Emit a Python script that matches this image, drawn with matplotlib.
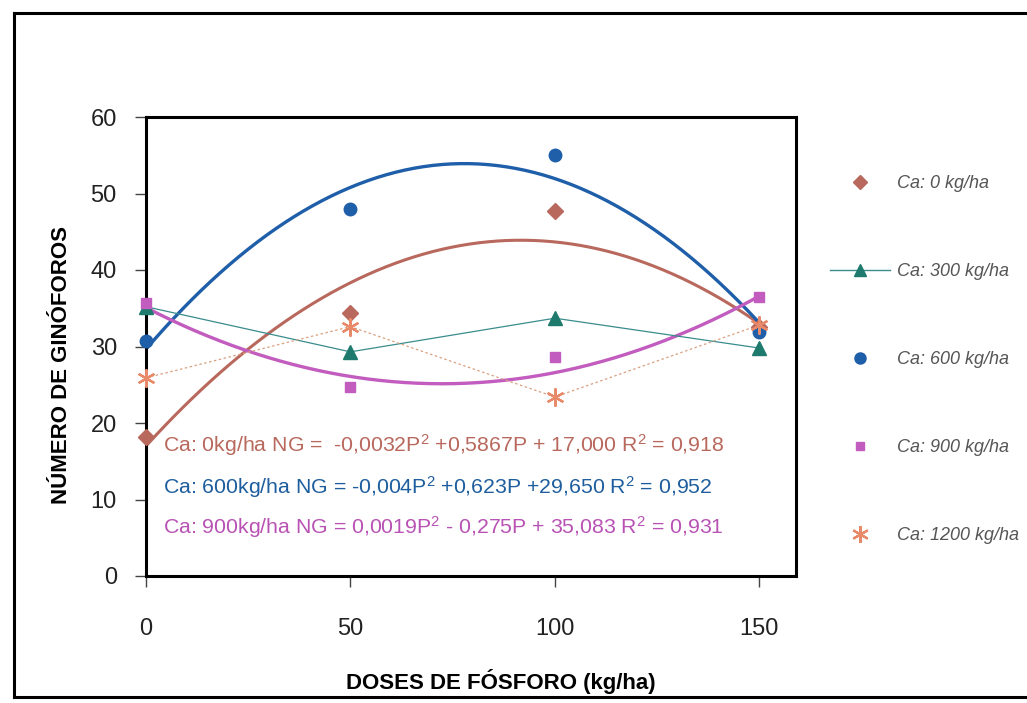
import numpy as np
import matplotlib
matplotlib.use("Agg")
import matplotlib.pyplot as plt
from matplotlib.lines import Line2D

plt.rcParams["font.family"] = ["Liberation Sans", "DejaVu Sans"]
plt.rcParams["mathtext.fontset"] = "custom"
plt.rcParams["mathtext.rm"] = "Liberation Sans"
plt.rcParams["mathtext.it"] = "Liberation Sans:italic"

# doses de fósforo (kg/ha)
doses = [0, 50, 100, 150]

# número de ginóforos por dose de cálcio
ca0 = [18.2, 34.4, 47.7, 32.5]
ca300 = [35.2, 29.3, 33.7, 29.8]
ca600 = [30.7, 48.0, 55.0, 31.9]
ca900 = [35.7, 24.7, 28.6, 36.5]
ca1200 = [25.9, 32.6, 23.4, 32.8]

# polynomial trendlines (coefs shown on the chart: P^2, P, const)
fit_ca0 = [-0.0032, 0.5867, 17.000]
fit_ca600 = [-0.004, 0.623, 29.650]
fit_ca900 = [0.0019, -0.275, 35.083]

eq_texts = [
    r"Ca: 0kg/ha NG =  -0,0032P$^\mathrm{2}$ +0,5867P + 17,000 R$^\mathrm{2}$ = 0,918",
    r"Ca: 600kg/ha NG = -0,004P$^\mathrm{2}$ +0,623P +29,650 R$^\mathrm{2}$ = 0,952",
    r"Ca: 900kg/ha NG = 0,0019P$^\mathrm{2}$ - 0,275P + 35,083 R$^\mathrm{2}$ = 0,931",
]
legend_labels = ["Ca: 0 kg/ha", "Ca: 300 kg/ha", "Ca: 600 kg/ha",
                 "Ca: 900 kg/ha", "Ca: 1200 kg/ha"]

C0 = "#b8685c"
C300 = "#1d7a6c"
C600 = "#1f5ea8"
C900 = "#c25cbe"
C1200 = "#e8896a"

W, H = 1027, 703
fig = plt.figure(figsize=(W / 100, H / 100), dpi=100)
ax = fig.add_axes([146 / W, 1 - 576 / H, 650 / W, 459 / H])

p = np.linspace(0, 150, 200)
ax.plot(p, np.polyval(fit_ca0, p), color=C0, lw=2.2, zorder=2)
ax.plot(p, np.polyval(fit_ca600, p), color=C600, lw=2.4, zorder=2)
ax.plot(p, np.polyval(fit_ca900, p), color=C900, lw=2.4, zorder=2)

ax.plot(doses, ca300, color="#3a8c8c", lw=0.9, zorder=3)
ax.plot(doses, ca1200, color="#d8a080", lw=0.9, ls=(0, (2, 2)), zorder=3)

ax.plot(doses, ca0, ls="none", marker="D", ms=8, color=C0, zorder=4,
        clip_on=False)
ax.plot(doses, ca300, ls="none", marker="^", ms=10, color=C300, zorder=4,
        clip_on=False)
ax.plot(doses, ca600, ls="none", marker="o", ms=9, color=C600, zorder=4,
        clip_on=False)
ax.plot(doses, ca900, ls="none", marker="s", ms=7, color=C900, zorder=4,
        clip_on=False)
ax.plot(doses, ca1200, ls="none", marker=(6, 2, 0), ms=13, mew=1.6,
        color=C1200, zorder=5, clip_on=False)

ax.set_xlim(0, 159)
ax.set_ylim(0, 60)
ax.set_xticks([0, 50, 100, 150])
ax.set_yticks(range(0, 61, 10))
ax.tick_params(axis="both", direction="out", length=8, width=1, color="#444444",
               labelsize=17, labelcolor="#222222")
ax.tick_params(axis="x", pad=22)
ax.tick_params(axis="y", pad=13)
for s in ax.spines.values():
    s.set_linewidth(2.2)
    s.set_color("black")
    s.set_zorder(3.5)

eq_colors = [C0, "#1e5e9e", "#b852b4"]
eq_y = [17.1, 11.6, 6.4]
for t, c, yy in zip(eq_texts, eq_colors, eq_y):
    ax.text(4.2, yy, t, color=c, fontsize=15.3, va="center", ha="left")

fig.text(501 / W, 1 - 682 / H, "DOSES DE FÓSFORO (kg/ha)", fontsize=16,
         fontweight="bold", ha="center", va="center")
fig.text(62 / W, 1 - 365 / H, "NÚMERO DE GINÓFOROS", fontsize=16,
         fontweight="bold", ha="center", va="center", rotation=90)

handles = [
    Line2D([], [], ls="none", marker="D", ms=7, color=C0),
    Line2D([], [], color="#3a8c8c", lw=1, marker="^", ms=9,
           mfc=C300, mec=C300),
    Line2D([], [], ls="none", marker="o", ms=8, color=C600),
    Line2D([], [], ls="none", marker="s", ms=6, color=C900),
    Line2D([], [], ls="none", marker=(6, 2, 0), ms=12, mew=1.6, color=C1200),
]
leg = fig.legend(handles, legend_labels, loc="upper left",
                 bbox_to_anchor=(830 / W, 1 - 175 / H), frameon=False,
                 fontsize=13, labelspacing=3.93, handlelength=3.3,
                 handletextpad=0.4, borderpad=0, borderaxespad=0)
for txt in leg.get_texts():
    txt.set_style("italic")
    txt.set_color("#555555")

# outer frame round the whole chart
fig.add_artist(Line2D([14 / W, 14 / W], [1 - 13 / H, 1 - 697 / H],
                      transform=fig.transFigure, color="black", lw=2.2))
fig.add_artist(Line2D([14 / W, 1.02], [1 - 13 / H, 1 - 13 / H],
                      transform=fig.transFigure, color="black", lw=2.2))
fig.add_artist(Line2D([14 / W, 1.02], [1 - 697 / H, 1 - 697 / H],
                      transform=fig.transFigure, color="black", lw=2.2))

fig.savefig("out.png", dpi=100)
